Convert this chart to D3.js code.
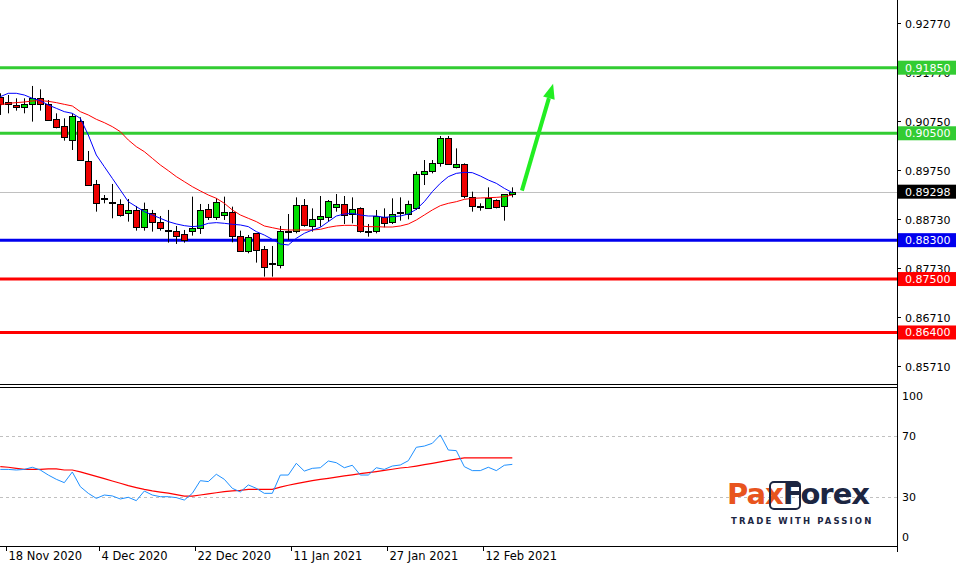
<!DOCTYPE html>
<html><head><meta charset="utf-8">
<script src="https://cdn.jsdelivr.net/npm/d3@7"></script>
<style>body{margin:0;background:#fff}svg{display:block}text{font-family:"DejaVu Sans",sans-serif}</style>
</head><body><svg id="c" width="961" height="565"></svg>
<script>
const opens=[0.91254,0.91137,0.91083,0.91034,0.91096,0.91220,0.91096,0.90794,0.90650,0.90355,0.90753,0.89930,0.89450,0.89162,0.89086,0.89038,0.88853,0.88922,0.88565,0.88853,0.88668,0.88517,0.88496,0.88421,0.88489,0.88544,0.88942,0.88784,0.88812,0.88874,0.88387,0.88064,0.88441,0.88118,0.87830,0.87789,0.88496,0.88475,0.89017,0.88598,0.88729,0.88784,0.88989,0.89044,0.88838,0.88955,0.88496,0.88489,0.88784,0.88667,0.88873,0.88832,0.88955,0.89655,0.89710,0.89881,0.90396,0.89799,0.89861,0.89195,0.88996,0.88976,0.89127,0.88989,0.89250];
const closes=[0.91117,0.91096,0.91041,0.91103,0.91220,0.91096,0.90774,0.90637,0.90417,0.90856,0.89951,0.89436,0.89059,0.89155,0.89073,0.88819,0.88922,0.88579,0.88942,0.88668,0.88544,0.88503,0.88393,0.88304,0.88558,0.88922,0.88784,0.89093,0.88880,0.88373,0.88085,0.88359,0.88085,0.87755,0.87816,0.88489,0.88482,0.89017,0.88605,0.88736,0.88791,0.89106,0.89044,0.88818,0.88935,0.88489,0.88482,0.88797,0.88667,0.88832,0.88859,0.89037,0.89662,0.89723,0.89881,0.90396,0.89861,0.89861,0.89195,0.89003,0.88983,0.89175,0.88989,0.89243,0.89298];
const highs=[0.91323,0.91288,0.91220,0.91220,0.91474,0.91405,0.91185,0.90911,0.90808,0.90911,0.90829,0.90136,0.89539,0.89230,0.89457,0.89141,0.89148,0.89004,0.89073,0.88922,0.88798,0.88922,0.88592,0.88510,0.89196,0.89045,0.89045,0.89162,0.89196,0.88990,0.88496,0.88407,0.88441,0.88180,0.88180,0.88592,0.88838,0.89181,0.89147,0.88955,0.89209,0.89127,0.89250,0.89209,0.89181,0.88976,0.88633,0.88921,0.88955,0.89161,0.89181,0.89113,0.89710,0.89950,0.89950,0.90444,0.90444,0.90190,0.89881,0.89298,0.89058,0.89387,0.89140,0.89250,0.89387];
const lows=[0.90877,0.90911,0.90966,0.90911,0.90740,0.90966,0.90760,0.90602,0.90348,0.90156,0.89937,0.89416,0.88887,0.89059,0.88750,0.88784,0.88682,0.88496,0.88496,0.88476,0.88496,0.88249,0.88222,0.88249,0.88393,0.88428,0.88716,0.88716,0.88716,0.88256,0.88064,0.88030,0.87838,0.87549,0.87549,0.87720,0.88303,0.88441,0.88578,0.88475,0.88578,0.88681,0.88887,0.88633,0.88646,0.88454,0.88372,0.88441,0.88564,0.88633,0.88701,0.88729,0.88921,0.89435,0.89675,0.89813,0.89847,0.89778,0.89161,0.88887,0.88907,0.88955,0.88955,0.88701,0.89181];
const maFast=[0.91254,0.91323,0.91323,0.91288,0.91220,0.91172,0.91082,0.91014,0.90945,0.90911,0.90808,0.90465,0.90053,0.89813,0.89573,0.89333,0.89093,0.88990,0.88887,0.88819,0.88750,0.88682,0.88634,0.88599,0.88579,0.88592,0.88647,0.88661,0.88647,0.88627,0.88613,0.88579,0.88476,0.88406,0.88317,0.88221,0.88201,0.88338,0.88441,0.88509,0.88564,0.88681,0.88797,0.88838,0.88852,0.88818,0.88797,0.88797,0.88770,0.88784,0.88797,0.88838,0.88935,0.89092,0.89298,0.89470,0.89607,0.89675,0.89696,0.89689,0.89621,0.89538,0.89470,0.89367,0.89278];
const maSlow=[0.91083,0.91117,0.91131,0.91144,0.91165,0.91172,0.91158,0.91131,0.91096,0.91062,0.90945,0.90877,0.90788,0.90719,0.90637,0.90534,0.90362,0.90225,0.90122,0.89985,0.89848,0.89731,0.89608,0.89505,0.89402,0.89313,0.89230,0.89162,0.89059,0.88922,0.88819,0.88750,0.88682,0.88592,0.88557,0.88523,0.88509,0.88509,0.88509,0.88509,0.88523,0.88564,0.88592,0.88605,0.88605,0.88592,0.88578,0.88578,0.88571,0.88571,0.88592,0.88633,0.88715,0.88818,0.88921,0.89010,0.89058,0.89092,0.89140,0.89161,0.89168,0.89175,0.89181,0.89195,0.89230];
const rsi=[48.1,48.1,47.7,48.1,49.5,47.7,44.4,41.6,39.4,46.4,36.8,32.4,29.1,31.3,30.7,28.7,29.8,27.6,33.9,31.3,30.2,30.2,29.6,28.0,32.4,40.7,40.1,44.9,41.6,35.7,33.3,37.9,35.7,32.4,32.4,44.4,44.4,52.1,47.0,48.8,49.2,53.6,52.5,49.2,50.8,44.4,44.4,49.2,48.1,50.3,51.0,53.8,62.6,63.4,65.2,70.7,60.8,60.4,49.9,47.3,47.3,49.5,47.3,50.8,51.4];
const rsiSignal=[49.9,49.5,48.8,48.1,48.1,48.1,48.5,48.5,47.7,47.7,46.5,45.0,43.5,42.0,40.5,39.0,37.5,36.2,35.0,34.0,33.2,32.5,31.5,30.6,30.6,31.3,32.0,32.8,33.5,34.0,34.3,35.0,35.0,35.0,35.0,36.5,37.7,38.8,39.8,40.7,41.5,42.2,43.0,43.8,44.5,45.3,46.0,46.7,47.5,48.2,49.0,49.5,50.3,51.2,52.1,53.0,54.0,54.8,55.6,55.6,55.6,55.6,55.6,55.6,55.6];
const priceTicks=[0.92770,0.91770,0.90750,0.89750,0.88730,0.87730,0.86710,0.85710];
const levels=[{v:0.91850,c:"#33cc33",t:"0.91850"},{v:0.90500,c:"#33cc33",t:"0.90500"},{v:0.88300,c:"#0000ee",t:"0.88300"},{v:0.87500,c:"#ff0000",t:"0.87500"},{v:0.86400,c:"#ff0000",t:"0.86400"}];
const lastPrice=0.89298;
const rsiTicks=[100,70,30,0];
const dateLabels=["18 Nov 2020","4 Dec 2020","22 Dec 2020","11 Jan 2021","27 Jan 2021","12 Feb 2021"];
const dateIdx=[0.7,12.4,24.4,36.4,48.4,60.3];
const arrow={from:[65.2,0.8932],to:[69.1,0.9152]};

const svg=d3.select("#c");
const W=897;
const x=d3.scaleLinear().domain([0,64]).range([0.3,512.3]);
const y=d3.scaleLinear().domain([0.85710,0.92770]).range([366,23]);
const yr=d3.scaleLinear().domain([0,100]).range([542.75,390.25]);
const idx=d3.range(opens.length);

svg.append("line").attr("x1",W+.5).attr("x2",W+.5).attr("y1",0).attr("y2",552).attr("stroke","#000");
svg.append("line").attr("x1",0).attr("x2",W).attr("y1",384.5).attr("y2",384.5).attr("stroke","#000");
svg.append("line").attr("x1",0).attr("x2",W).attr("y1",387.5).attr("y2",387.5).attr("stroke","#000");
svg.append("line").attr("x1",0).attr("x2",W).attr("y1",546.5).attr("y2",546.5).attr("stroke","#000");

const pa=svg.append("g");
priceTicks.forEach(t=>{
  const yy=Math.round(y(t))+.5;
  pa.append("line").attr("x1",W).attr("x2",W+4).attr("y1",yy).attr("y2",yy).attr("stroke","#000");
  pa.append("text").attr("x",905).attr("y",yy+4).attr("font-size",11).text(t.toFixed(5));
});
svg.append("line").attr("x1",0).attr("x2",W).attr("y1",Math.round(y(lastPrice))+.5).attr("y2",Math.round(y(lastPrice))+.5).attr("stroke","#c0c0c0");
levels.forEach(l=>{
  const yy=y(l.v);
  svg.append("line").attr("x1",0).attr("x2",W).attr("y1",yy).attr("y2",yy).attr("stroke",l.c).attr("stroke-width",3);
});

const cg=svg.append("g");
idx.forEach(i=>{
  const cx=Math.round(x(i))+.5;
  cg.append("line").attr("x1",cx).attr("x2",cx).attr("y1",y(highs[i])).attr("y2",y(lows[i])).attr("stroke","#000");
});
svg.append("path").attr("d",d3.line().x(i=>x(i)).y(i=>y(maSlow[i]))(idx)).attr("fill","none").attr("stroke","#ff0000").attr("stroke-width",1);
svg.append("path").attr("d",d3.line().x(i=>x(i)).y(i=>y(maFast[i]))(idx)).attr("fill","none").attr("stroke","#0000ff").attr("stroke-width",1);
idx.forEach(i=>{
  const cx=Math.round(x(i));
  const top=y(Math.max(opens[i],closes[i])), bot=y(Math.min(opens[i],closes[i]));
  const up=closes[i]>=opens[i];
  cg.append("rect").attr("x",cx-2.5).attr("width",6).attr("y",Math.round(top)+.5).attr("height",Math.max(1,Math.round(bot-top)))
    .attr("fill",up?"#00dd00":"#ee0000").attr("stroke","#000").attr("stroke-width",1);
});

levels.forEach(l=>{
  const yy=y(l.v);
  svg.append("rect").attr("x",W+1).attr("y",yy-7).attr("width",58).attr("height",14).attr("fill",l.c);
  svg.append("text").attr("x",905).attr("y",yy+4).attr("font-size",11).attr("fill","#fff").text(l.t);
});
{
  const yy=y(lastPrice);
  svg.append("rect").attr("x",W+1).attr("y",yy-7).attr("width",58).attr("height",14).attr("fill","#000");
  svg.append("text").attr("x",905).attr("y",yy+4).attr("font-size",11).attr("fill","#fff").text(lastPrice.toFixed(5));
}

const ax1=x(arrow.from[0]),ay1=y(arrow.from[1]),ax2=x(arrow.to[0]),ay2=y(arrow.to[1]);
const ang=Math.atan2(ay2-ay1,ax2-ax1);
const hl=15,hw=6;
const bx=ax2-hl*Math.cos(ang),by=ay2-hl*Math.sin(ang);
svg.append("line").attr("x1",ax1).attr("y1",ay1).attr("x2",bx).attr("y2",by).attr("stroke","#22ee22").attr("stroke-width",4);
svg.append("path").attr("d",`M${ax2},${ay2}L${bx+hw*Math.sin(ang)},${by-hw*Math.cos(ang)}L${bx-hw*Math.sin(ang)},${by+hw*Math.cos(ang)}Z`).attr("fill","#22ee22");

[70,30].forEach(v=>{
  svg.append("line").attr("x1",0).attr("x2",W).attr("y1",Math.round(yr(v))+.5).attr("y2",Math.round(yr(v))+.5).attr("stroke","#c0c0c0").attr("stroke-dasharray","3,3");
});
const rsiPos={100:400,70:yr(70)+4,30:yr(30)+4,0:541};
rsiTicks.forEach(t=>{
  svg.append("text").attr("x",902).attr("y",rsiPos[t]).attr("font-size",11).text(t);
});
svg.append("path").attr("d",d3.line().x(i=>x(i)).y(i=>yr(rsiSignal[i]))(idx)).attr("fill","none").attr("stroke","#ff0000").attr("stroke-width",1.2);
svg.append("path").attr("d",d3.line().x(i=>x(i)).y(i=>yr(rsi[i]))(idx)).attr("fill","none").attr("stroke","#1e90ff").attr("stroke-width",1);

dateLabels.forEach((d,k)=>{
  const xx=Math.round(x(dateIdx[k]))+.5;
  svg.append("line").attr("x1",xx).attr("x2",xx).attr("y1",546).attr("y2",551).attr("stroke","#000");
  svg.append("text").attr("x",xx+2).attr("y",560).attr("font-size",11.5).text(d);
});

const lg=svg.append("g");
lg.append("text").attr("x",727).attr("y",504).attr("font-size",29).attr("font-weight","bold").attr("font-family","Roboto, sans-serif").attr("letter-spacing",-1)
  .html('<tspan fill="#e8541e">Pax</tspan><tspan fill="#1c2642">Forex</tspan>');
lg.append("rect").attr("x",770).attr("y",482).attr("width",30).attr("height",27).attr("rx",4).attr("fill","none").attr("stroke","#1c2642").attr("stroke-width",2);
lg.append("text").attr("x",731).attr("y",524).attr("font-size",8.5).attr("font-weight","bold").attr("letter-spacing",2.1).attr("fill","#1c2642").attr("font-family","Roboto, sans-serif").text("TRADE WITH PASSION");
</script></body></html>
